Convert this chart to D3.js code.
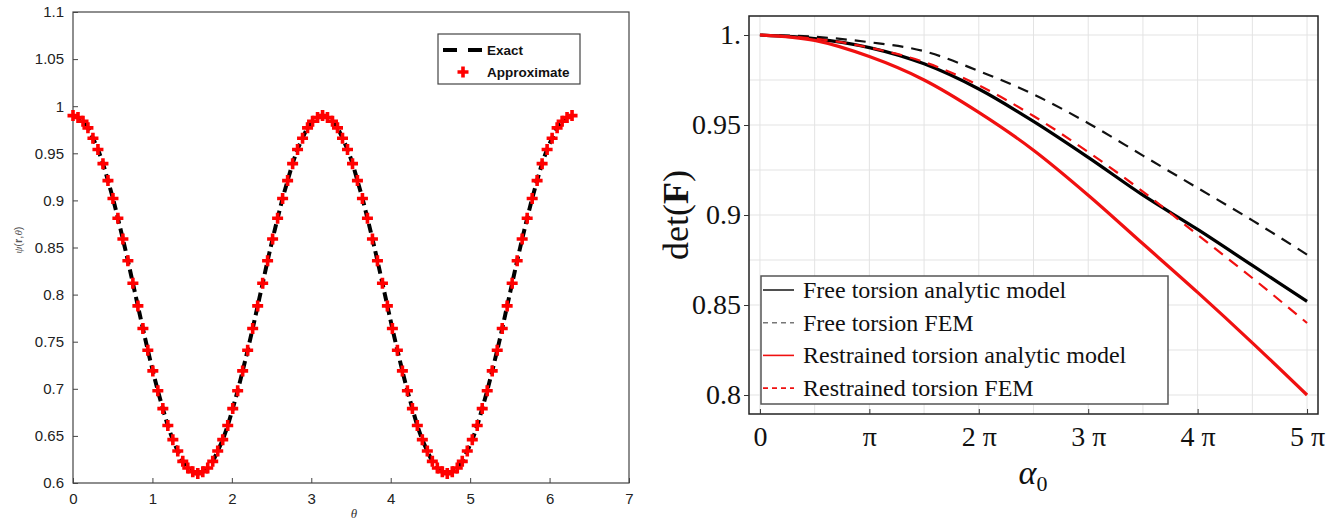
<!DOCTYPE html>
<html><head><meta charset="utf-8">
<script src="https://cdn.jsdelivr.net/npm/d3@7"></script>
<style>body{margin:0;background:#fff}svg{display:block}</style>
</head><body>
<svg id="c" width="1334" height="521"></svg>
<script>
// ---------- Left chart data ----------
const theta = [0.000,0.063,0.126,0.188,0.251,0.314,0.377,0.440,0.503,0.565,0.628,0.691,0.754,0.817,0.880,0.942,1.005,1.068,1.131,1.194,1.257,1.319,1.382,1.445,1.508,1.571,1.634,1.696,1.759,1.822,1.885,1.948,2.011,2.073,2.136,2.199,2.262,2.325,2.388,2.450,2.513,2.576,2.639,2.702,2.765,2.827,2.890,2.953,3.016,3.079,3.142,3.204,3.267,3.330,3.393,3.456,3.519,3.581,3.644,3.707,3.770,3.833,3.896,3.958,4.021,4.084,4.147,4.210,4.273,4.335,4.398,4.461,4.524,4.587,4.650,4.712,4.775,4.838,4.901,4.964,5.027,5.089,5.152,5.215,5.278,5.341,5.404,5.466,5.529,5.592,5.655,5.718,5.781,5.843,5.906,5.969,6.032,6.095,6.158,6.220,6.283];
const psiExact = [0.990,0.988,0.984,0.977,0.966,0.954,0.939,0.921,0.902,0.881,0.859,0.836,0.812,0.788,0.764,0.741,0.719,0.698,0.679,0.661,0.646,0.634,0.623,0.616,0.612,0.610,0.612,0.616,0.623,0.634,0.646,0.661,0.679,0.698,0.719,0.741,0.764,0.788,0.812,0.836,0.859,0.881,0.902,0.921,0.939,0.954,0.966,0.977,0.984,0.988,0.990,0.988,0.984,0.977,0.966,0.954,0.939,0.921,0.902,0.881,0.859,0.836,0.812,0.788,0.764,0.741,0.719,0.698,0.679,0.661,0.646,0.634,0.623,0.616,0.612,0.610,0.612,0.616,0.623,0.634,0.646,0.661,0.679,0.698,0.719,0.741,0.764,0.788,0.812,0.836,0.859,0.881,0.902,0.921,0.939,0.954,0.966,0.977,0.984,0.988,0.990];
const psiApprox = [0.990,0.988,0.984,0.977,0.966,0.954,0.939,0.921,0.902,0.881,0.859,0.836,0.812,0.788,0.764,0.741,0.719,0.698,0.679,0.661,0.646,0.634,0.623,0.616,0.612,0.610,0.612,0.616,0.623,0.634,0.646,0.661,0.679,0.698,0.719,0.741,0.764,0.788,0.812,0.836,0.859,0.881,0.902,0.921,0.939,0.954,0.966,0.977,0.984,0.988,0.990,0.988,0.984,0.977,0.966,0.954,0.939,0.921,0.902,0.881,0.859,0.836,0.812,0.788,0.764,0.741,0.719,0.698,0.679,0.661,0.646,0.634,0.623,0.616,0.612,0.610,0.612,0.616,0.623,0.634,0.646,0.661,0.679,0.698,0.719,0.741,0.764,0.788,0.812,0.836,0.859,0.881,0.902,0.921,0.939,0.954,0.966,0.977,0.984,0.988,0.990];
const leftXTicks = [0,1,2,3,4,5,6,7];
const leftYTicks = [0.6,0.65,0.7,0.75,0.8,0.85,0.9,0.95,1,1.05,1.1];
const leftLegend = ["Exact","Approximate"];

// ---------- Right chart data (alpha0 in units of pi) ----------
const alpha = [0,0.5,1,1.5,2,2.5,3,3.5,4,4.5,5];
const freeAnalytic = [1.000,0.998,0.993,0.984,0.970,0.952,0.932,0.911,0.892,0.872,0.852];
const freeFEM = [1.000,0.999,0.996,0.991,0.980,0.967,0.951,0.933,0.915,0.897,0.878];
const restrAnalytic = [1.000,0.997,0.988,0.975,0.957,0.936,0.911,0.884,0.857,0.829,0.800];
const restrFEM = [1.000,0.998,0.993,0.985,0.972,0.955,0.935,0.913,0.889,0.865,0.840];
const rightXTicks = [0,1,2,3,4,5];
const rightXTickLabels = ["0","\u03C0","2 \u03C0","3 \u03C0","4 \u03C0","5 \u03C0"];
const rightYTicks = [0.8,0.85,0.9,0.95,1.0];
const rightYTickLabels = ["0.8","0.85","0.9","0.95","1."];
const rightLegend = ["Free torsion analytic model","Free torsion FEM","Restrained torsion analytic model","Restrained torsion FEM"];

const svg = d3.select("#c");
svg.append("rect").attr("width",1334).attr("height",521).attr("fill","#fff");

// ================= LEFT CHART =================
const xL = d3.scaleLinear().domain([0,7]).range([73,629]);
const yL = d3.scaleLinear().domain([0.6,1.1]).range([483,12]);
const gL = svg.append("g").attr("font-family","Liberation Sans, Arial, sans-serif");

gL.append("rect").attr("x",xL(0)).attr("y",yL(1.1)).attr("width",xL(7)-xL(0)).attr("height",yL(0.6)-yL(1.1))
  .attr("fill","none").attr("stroke","#444").attr("stroke-width",1.2);

const axB = gL.append("g").attr("transform",`translate(0,${yL(0.6)})`)
  .call(d3.axisBottom(xL).tickValues(leftXTicks).tickSizeInner(-5).tickSizeOuter(0).tickPadding(10).tickFormat(d3.format("d")));
const axLft = gL.append("g").attr("transform",`translate(${xL(0)},0)`)
  .call(d3.axisLeft(yL).tickValues(leftYTicks).tickSizeInner(-5).tickSizeOuter(0).tickPadding(9).tickFormat(d=>String(+d.toFixed(2))));
[axB,axLft].forEach(a=>{
  a.select(".domain").remove();
  a.selectAll("line").attr("stroke","#444");
  a.selectAll("text").attr("font-size",15).attr("fill","#222").attr("font-family","Liberation Sans, Arial, sans-serif");
});

// y label
const ylab = gL.append("text").attr("transform","translate(22,240) rotate(-90)").attr("text-anchor","middle")
  .attr("font-size",11).attr("fill","#555");
ylab.append("tspan").attr("font-style","italic").attr("font-family","Liberation Serif, serif").text("\u03C8");
ylab.append("tspan").text("(");
ylab.append("tspan").attr("font-weight","bold").text("r");
ylab.append("tspan").text(",");
ylab.append("tspan").attr("font-style","italic").attr("font-family","Liberation Serif, serif").text("\u03B8");
ylab.append("tspan").text(")");
// x label
gL.append("text").attr("x",(xL(0)+xL(7))/2+3).attr("y",518).attr("text-anchor","middle")
  .attr("font-size",13).attr("font-style","italic").attr("font-family","Liberation Serif, serif").attr("fill","#333").text("\u03B8");

const leftPts = theta.map((t,i)=>({x:t,e:psiExact[i],a:psiApprox[i]}));
gL.append("path").datum(leftPts)
  .attr("d",d3.line().x(d=>xL(d.x)).y(d=>yL(d.e)).curve(d3.curveMonotoneX))
  .attr("fill","none").attr("stroke","#000").attr("stroke-width",4).attr("stroke-dasharray","9,5");
const plus = (cx,cy,s)=>`M${cx-s},${cy}H${cx+s}M${cx},${cy-s}V${cy+s}`;
gL.append("g").selectAll("path").data(leftPts).join("path")
  .attr("d",d=>plus(xL(d.x),yL(d.a),5.5)).attr("stroke","#ff0000").attr("stroke-width",3.6).attr("fill","none");

// left legend
const lg = gL.append("g");
lg.append("rect").attr("x",438).attr("y",34).attr("width",142).attr("height",50).attr("fill","#fff").attr("stroke","#444").attr("stroke-width",1.2);
lg.append("line").attr("x1",443).attr("x2",482).attr("y1",50).attr("y2",50).attr("stroke","#000").attr("stroke-width",4).attr("stroke-dasharray","14,11");
lg.append("path").attr("d",plus(463,72,5.5)).attr("stroke","#ff0000").attr("stroke-width",3.6);
lg.selectAll("text").data(leftLegend).join("text").attr("x",487).attr("y",(d,i)=>50+i*22).attr("dy","0.35em")
  .attr("font-size",13.5).attr("font-weight","bold").attr("fill","#111").text(d=>d);

// ================= RIGHT CHART =================
const xR = d3.scaleLinear().domain([-0.1,5.1]).range([749,1318]);
const yR = d3.scaleLinear().domain([0.8,1.0]).range([395,35]);
const frameTop = 16, frameBottom = 414;
const gR = svg.append("g").attr("font-family","Liberation Serif, Times New Roman, serif");

// grid
const gridX = d3.range(0,5.01,0.5), gridY = d3.range(0.8,1.0001,0.025);
gR.append("g").selectAll("line").data(gridX).join("line")
  .attr("x1",d=>xR(d)).attr("x2",d=>xR(d)).attr("y1",frameTop).attr("y2",frameBottom).attr("stroke","#e3e3e3").attr("stroke-width",1);
gR.append("g").selectAll("line").data(gridY).join("line")
  .attr("y1",d=>yR(d)).attr("y2",d=>yR(d)).attr("x1",749).attr("x2",1318).attr("stroke","#e3e3e3").attr("stroke-width",1);

// curves
const lineR = (vals)=>d3.line().x((d,i)=>xR(alpha[i])).y(d=>yR(d)).curve(d3.curveMonotoneX)(vals);
gR.append("path").attr("d",lineR(freeFEM)).attr("fill","none").attr("stroke","#111").attr("stroke-width",2.2).attr("stroke-dasharray","11,8");
gR.append("path").attr("d",lineR(freeAnalytic)).attr("fill","none").attr("stroke","#000").attr("stroke-width",3.2);
gR.append("path").attr("d",lineR(restrFEM)).attr("fill","none").attr("stroke","#f01010").attr("stroke-width",2.2).attr("stroke-dasharray","11,8");
gR.append("path").attr("d",lineR(restrAnalytic)).attr("fill","none").attr("stroke","#f01010").attr("stroke-width",3.2);

// frame
gR.append("rect").attr("x",749).attr("y",frameTop).attr("width",1318-749).attr("height",frameBottom-frameTop)
  .attr("fill","none").attr("stroke","#222").attr("stroke-width",1.5);

// axes
const axRB = gR.append("g").attr("transform",`translate(0,${frameBottom})`)
  .call(d3.axisBottom(xR).tickValues(rightXTicks).tickSizeInner(-5).tickSizeOuter(0).tickPadding(12).tickFormat((d,i)=>rightXTickLabels[i]));
const axRL = gR.append("g").attr("transform",`translate(749,0)`)
  .call(d3.axisLeft(yR).tickValues(rightYTicks).tickSizeInner(5).tickSizeOuter(0).tickPadding(3).tickFormat((d,i)=>rightYTickLabels[i]));
[axRB,axRL].forEach(a=>{
  a.select(".domain").remove();
  a.selectAll("line").attr("stroke","#333");
  a.selectAll("text").attr("font-size",28).attr("fill","#111").attr("font-family","Liberation Serif, Times New Roman, serif");
});

// y label det(F)
const dl = gR.append("text").attr("transform","translate(688,215) rotate(-90)").attr("text-anchor","middle")
  .attr("font-size",36).attr("fill","#111");
dl.append("tspan").text("det(");
dl.append("tspan").attr("font-weight","bold").text("F");
dl.append("tspan").text(")");
// x label alpha_0
const al = gR.append("text").attr("x",1033).attr("y",484).attr("text-anchor","middle").attr("font-size",34).attr("fill","#111");
al.append("tspan").attr("font-style","italic").text("\u03B1");
al.append("tspan").attr("font-size",22).attr("dy",7).text("0");

// right legend
const rl = gR.append("g");
rl.append("rect").attr("x",761).attr("y",276).attr("width",407).attr("height",128).attr("fill","#fff").attr("stroke","#555").attr("stroke-width",1.5);
const legStyles = [
  {c:"#222",d:null},{c:"#777",d:"5,4"},{c:"#f01010",d:null},{c:"#f01010",d:"5,4"}
];
rightLegend.forEach((t,i)=>{
  const y = 290 + i*32.7;
  rl.append("line").attr("x1",763).attr("x2",794).attr("y1",y).attr("y2",y)
    .attr("stroke",legStyles[i].c).attr("stroke-width",1.6).attr("stroke-dasharray",legStyles[i].d);
  rl.append("text").attr("x",803).attr("y",y).attr("dy","0.33em").attr("font-size",24).attr("fill","#111").text(t);
});
</script>
</body></html>
